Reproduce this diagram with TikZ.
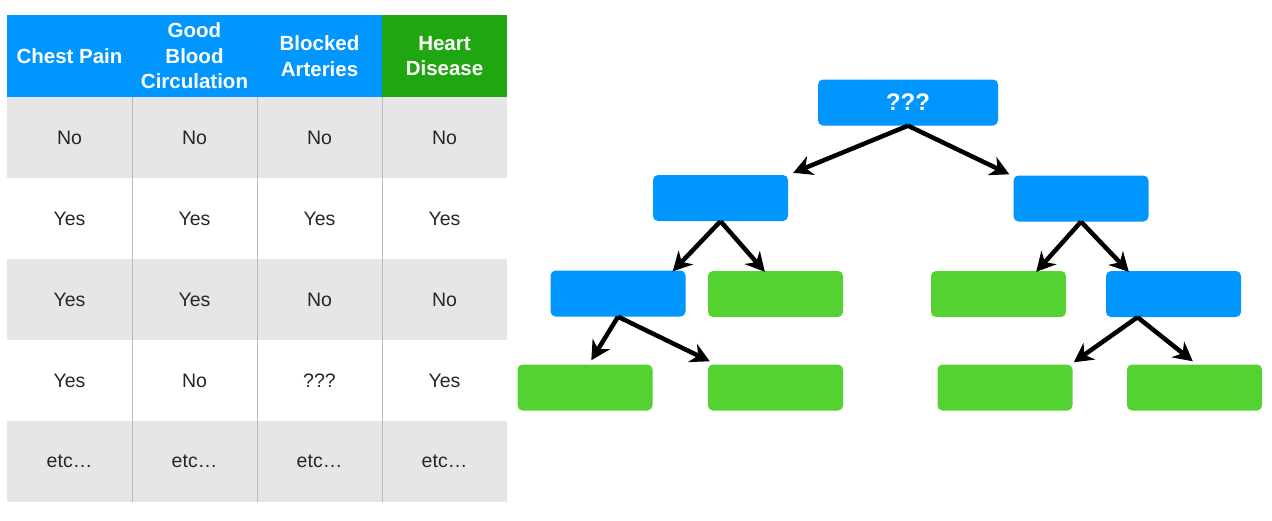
\documentclass[tikz,border=0pt]{standalone}
\usepackage{fontspec}
\setmainfont{Liberation Sans}
\usetikzlibrary{arrows.meta,calc}
\definecolor{hblue}{RGB}{0,150,255}
\definecolor{hgreen}{RGB}{32,166,16}
\definecolor{lgreen}{RGB}{84,210,50}
\definecolor{rowgray}{RGB}{230,230,230}
\definecolor{sepgray}{RGB}{185,185,185}
\tikzset{
  hdr/.style={text=white,font=\fontsize{20.5}{25.5}\selectfont\bfseries,align=center,inner sep=0pt},
  cell/.style={text=black!85,font=\fontsize{19.5}{23}\selectfont,inner sep=0pt},
  tbox/.style={rounded corners=5pt,minimum width=135pt,minimum height=46pt,inner sep=0pt,draw=none},
  bluebox/.style={tbox,fill=hblue},
  greenbox/.style={tbox,fill=lgreen},
  arr/.style={line width=4.5pt,-{Stealth[length=19pt,width=20pt,inset=6pt]}}
}
\begin{document}
\begin{tikzpicture}[x=1pt,y=-1pt]
\useasboundingbox (0,0) rectangle (1272,520);
\fill[white] (0,0) rectangle (1272,520);
% table backgrounds
\fill[hblue] (7,15) rectangle (382,97);
\fill[hgreen] (382,15) rectangle (507,97);
\fill[rowgray] (7,97) rectangle (507,178);
\fill[rowgray] (7,259) rectangle (507,340);
\fill[rowgray] (7,421) rectangle (507,502);
\foreach \x in {132,257,382}{\draw[sepgray,line width=0.8pt] (\x,97) -- (\x,502);}
% headers
\node[hdr] (h1) at (69.5,56) {Chest Pain};
\node[hdr] (h2) at (194.5,56) {Good\\Blood\\Circulation};
\node[hdr] (h3) at (319.5,56) {Blocked\\Arteries};
\node[hdr] (h4) at (444.5,56) {Heart\\Disease};
% rows
\node[cell] (r1c1) at (69.5,137.5) {No};
\node[cell] (r1c2) at (194.5,137.5) {No};
\node[cell] (r1c3) at (319.5,137.5) {No};
\node[cell] (r1c4) at (444.5,137.5) {No};
\node[cell] (r2c1) at (69.5,218.5) {Yes};
\node[cell] (r2c2) at (194.5,218.5) {Yes};
\node[cell] (r2c3) at (319.5,218.5) {Yes};
\node[cell] (r2c4) at (444.5,218.5) {Yes};
\node[cell] (r3c1) at (69.5,299.5) {Yes};
\node[cell] (r3c2) at (194.5,299.5) {Yes};
\node[cell] (r3c3) at (319.5,299.5) {No};
\node[cell] (r3c4) at (444.5,299.5) {No};
\node[cell] (r4c1) at (69.5,380.5) {Yes};
\node[cell] (r4c2) at (194.5,380.5) {No};
\node[cell] (r4c3) at (319.5,380.5) {???};
\node[cell] (r4c4) at (444.5,380.5) {Yes};
\node[cell] (r5c1) at (69.5,461.5) {etc…};
\node[cell] (r5c2) at (194.5,461.5) {etc…};
\node[cell] (r5c3) at (319.5,461.5) {etc…};
\node[cell] (r5c4) at (444.5,461.5) {etc…};
% tree
\node[bluebox,minimum width=180pt,text=white,font=\fontsize{24}{26}\selectfont\bfseries] (root) at (908,102.5) {???};
\node[bluebox] (a) at (720.5,198) {};
\node[bluebox] (b) at (1081,198.5) {};
\node[bluebox] (aa) at (618,293.5) {};
\node[greenbox] (ab) at (775.5,294) {};
\node[greenbox] (ba) at (998.5,294) {};
\node[bluebox] (bb) at (1173.5,294) {};
\node[greenbox] (aaa) at (585,387.5) {};
\node[greenbox] (aab) at (775.5,387.5) {};
\node[greenbox] (bba) at (1005,387.5) {};
\node[greenbox] (bbb) at (1194.5,387.5) {};
% arrows
\draw[arr] (root.south) -- ($(a.north east)+(5,-2)$);
\draw[arr] (root.south) -- ($(b.north west)+(-4,-1)$);
\draw[arr] (a.south) -- ($(aa.north east)+(-13,1)$);
\draw[arr] (a.south) -- ($(ab.north west)+(57,1)$);
\draw[arr] (b.south) -- ($(ba.north east)+(-30,1)$);
\draw[arr] (b.south) -- ($(bb.north west)+(23,1)$);
\draw[arr] (aa.south) -- ($(aaa.north west)+(74,-4)$);
\draw[arr] (aa.south) -- ($(aab.north west)+(2,-3)$);
\draw[arr] ($(bb.south)+(-36,0)$) -- ($(bba.north east)+(1,-2)$);
\draw[arr] ($(bb.south)+(-36,0)$) -- ($(bbb.north west)+(66,-3)$);
\end{tikzpicture}
\end{document}
